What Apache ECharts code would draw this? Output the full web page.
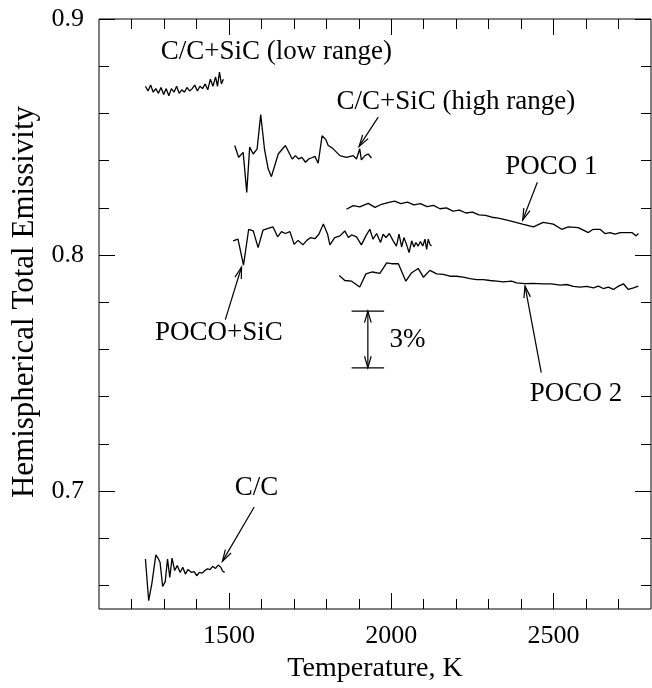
<!DOCTYPE html>
<html><head><meta charset="utf-8">
<script src="https://cdn.jsdelivr.net/npm/echarts@6/dist/echarts.min.js"></script>
<style>html,body{margin:0;padding:0;background:#fff}#c{width:652px;height:688px}</style>
</head><body><div id="c"></div>
<script>
// ---- data (temperature K, emissivity) ----
const ccT = [1243,1253,1263,1275,1282,1288,1296,1304,1311,1318,1325,1333,1341,1350,1358,1366,1374,1385,1393,1401,1409,1418,1426,1434,1442,1450,1459,1467,1475,1481,1487];
const ccE = [0.6712,0.6535,0.661,0.6729,0.6715,0.6698,0.6596,0.6616,0.6712,0.6634,0.6716,0.6663,0.6684,0.6655,0.6677,0.6648,0.6667,0.6655,0.6658,0.6641,0.6655,0.6652,0.6663,0.667,0.6667,0.6681,0.6672,0.6686,0.6677,0.666,0.6655];

const lowT = [1243,1251,1259,1267,1275,1283,1291,1299,1307,1315,1323,1331,1339,1347,1355,1363,1371,1379,1387,1395,1403,1411,1419,1427,1435,1443,1451,1459,1465,1471,1477,1483];
const lowE = [0.8715,0.8695,0.872,0.869,0.8705,0.8685,0.871,0.868,0.8705,0.8675,0.8705,0.869,0.8715,0.8685,0.870,0.869,0.871,0.8695,0.8705,0.872,0.8695,0.8715,0.8705,0.8725,0.870,0.8745,0.8715,0.8755,0.8715,0.8775,0.8725,0.8745];

const highT = [1518,1530,1544,1555,1564,1575,1587,1598,1610,1621,1631,1652,1674,1695,1705,1715,1725,1736,1746,1754,1765,1775,1787,1798,1806,1818,1842,1862,1883,1893,1903,1908,1919,1929,1939];
const highE = [0.8464,0.8414,0.8435,0.8265,0.8457,0.8428,0.845,0.8595,0.8445,0.8365,0.8332,0.8428,0.8464,0.8407,0.8421,0.8407,0.8414,0.8393,0.8407,0.8411,0.8418,0.8389,0.8505,0.849,0.8464,0.8454,0.8421,0.8414,0.8421,0.8407,0.845,0.8403,0.8421,0.8428,0.8411];

const pocoSicT = [1513,1528,1545,1561,1575,1590,1605,1621,1636,1650,1662,1674,1688,1701,1713,1728,1740,1752,1765,1777,1791,1804,1811,1826,1842,1857,1868,1878,1893,1908,1922,1934,1944,1955,1967,1975,1984,1994,2006,2016,2024,2032,2039,2047,2055,2063,2070,2076,2083,2090,2097,2104,2109,2114,2119,2124];
const pocoSicE = [0.806,0.8067,0.7957,0.8109,0.8102,0.8031,0.8105,0.8113,0.8119,0.8077,0.8099,0.8091,0.8099,0.8045,0.8062,0.8043,0.8062,0.8074,0.8069,0.8088,0.8131,0.8088,0.8043,0.8074,0.8081,0.8102,0.8074,0.8085,0.8077,0.8043,0.8081,0.8109,0.8067,0.8091,0.8053,0.8088,0.8074,0.8091,0.806,0.8038,0.8088,0.8034,0.8074,0.8045,0.801,0.806,0.8034,0.8053,0.8038,0.8057,0.8038,0.8067,0.8024,0.8067,0.8045,0.8038];

const poco1T = [1862,1883,1903,1929,1950,1970,1990,2010,2030,2050,2070,2090,2110,2130,2150,2170,2190,2210,2230,2250,2270,2290,2310,2330,2350,2366,2407,2438,2468,2499,2525,2545,2576,2607,2622,2643,2658,2674,2689,2705,2725,2741,2754,2761];
const poco1E = [0.8194,0.8209,0.8204,0.8219,0.8202,0.8215,0.8222,0.8228,0.8218,0.8224,0.8212,0.8218,0.8205,0.821,0.8196,0.82,0.8186,0.819,0.8178,0.8182,0.817,0.8168,0.816,0.8156,0.815,0.8145,0.813,0.8119,0.8138,0.8131,0.8109,0.8119,0.8116,0.8095,0.8109,0.8109,0.8091,0.8095,0.8088,0.8095,0.8095,0.8095,0.8081,0.8091];

const poco2T = [1840,1857,1878,1903,1922,1942,1965,1986,2001,2022,2045,2063,2083,2099,2119,2140,2160,2181,2201,2222,2242,2263,2284,2304,2325,2345,2371,2386,2412,2438,2468,2494,2520,2540,2561,2581,2602,2623,2638,2653,2669,2684,2700,2715,2730,2746,2761];
const poco2E = [0.7913,0.7892,0.7889,0.7864,0.792,0.7928,0.7922,0.7967,0.7963,0.7963,0.7889,0.7925,0.7943,0.7906,0.7935,0.792,0.7918,0.791,0.791,0.7906,0.79,0.7896,0.7896,0.7892,0.7889,0.7886,0.7889,0.7882,0.7879,0.788,0.7878,0.7878,0.7872,0.7875,0.7867,0.7864,0.7867,0.7861,0.7868,0.7858,0.7864,0.7854,0.7868,0.7878,0.7854,0.7861,0.7868];

const xMajorTicks = [1500,2000,2500];
const xMinorTicks = [1200,1300,1400,1600,1700,1800,1900,2100,2200,2300,2400,2600,2700];
const yMajorTicks = [0.7,0.8,0.9];
const yMinorTicks = [0.66,0.68,0.72,0.74,0.76,0.78,0.82,0.84,0.86,0.88];

// ---- chart ----
const FONT = 'Liberation Serif';
const chart = echarts.init(document.getElementById('c'));
const pairs = (T,E) => T.map((t,i)=>[t,E[i]]);
const ser = (name,T,E) => ({name,type:'line',data:pairs(T,E),symbol:'none',showSymbol:false,
  lineStyle:{color:'#000',width:1.3},itemStyle:{color:'#000'},xAxisIndex:0,yAxisIndex:0,z:3,animation:false});
const tk = (len, vals) => ({show:true,inside:true,length:len,customValues:vals,lineStyle:{color:'#000',width:1}});
const bx = {type:'value',min:1100,max:2800,axisLine:{show:false,onZero:false},splitLine:{show:false}};
const by = {type:'value',min:0.65,max:0.9,axisLine:{show:false,onZero:false},splitLine:{show:false}};
const noLab = {show:false};

chart.setOption({
  animation:false,
  backgroundColor:'#fff',
  grid:{left:99,right:1,top:19,bottom:79,show:true,borderColor:'#000',borderWidth:1,backgroundColor:'transparent'},
  xAxis:[
    Object.assign({},bx,{position:'bottom',axisTick:tk(16,xMajorTicks),
      axisLabel:{customValues:xMajorTicks,margin:14,fontFamily:FONT,fontSize:26,color:'#000',formatter:v=>String(v)},
      name:'Temperature, K',nameLocation:'middle',nameGap:46,
      nameTextStyle:{fontFamily:FONT,fontSize:28,color:'#000'}}),
    Object.assign({},bx,{position:'bottom',axisTick:tk(10,xMinorTicks),axisLabel:noLab}),
    Object.assign({},bx,{position:'top',axisTick:tk(16,xMajorTicks),axisLabel:noLab}),
    Object.assign({},bx,{position:'top',axisTick:tk(10,xMinorTicks),axisLabel:noLab})
  ],
  yAxis:[
    Object.assign({},by,{position:'left',axisTick:tk(16,yMajorTicks),
      axisLabel:{customValues:yMajorTicks,margin:15,fontFamily:FONT,fontSize:26,color:'#000',formatter:v=>v.toFixed(1)},
      name:'Hemispherical Total Emissivity',nameLocation:'middle',nameGap:56,
      nameTextStyle:{fontFamily:FONT,fontSize:31,color:'#000',padding:[0,0,0,24]}}),
    Object.assign({},by,{position:'left',axisTick:tk(10,yMinorTicks),axisLabel:noLab}),
    Object.assign({},by,{position:'right',axisTick:tk(16,yMajorTicks),axisLabel:noLab}),
    Object.assign({},by,{position:'right',axisTick:tk(10,yMinorTicks),axisLabel:noLab})
  ],
  series:[
    ser('C/C',ccT,ccE),
    ser('C/C+SiC (low range)',lowT,lowE),
    ser('C/C+SiC (high range)',highT,highE),
    ser('POCO+SiC',pocoSicT,pocoSicE),
    ser('POCO 1',poco1T,poco1E),
    ser('POCO 2',poco2T,poco2E)
  ]
});

// ---- annotations ----
const P = (k,v) => chart.convertToPixel({xAxisIndex:0,yAxisIndex:0},[k,v]);
const g = [];
function txt(s,k,v,align){
  const p = P(k,v);
  g.push({type:'text',x:p[0],y:p[1],z:10,style:{text:s,fontFamily:FONT,fontSize:27,fill:'#000',
    align:align||'center',verticalAlign:'middle',textAlign:align||'center',textVerticalAlign:'middle'}});
}
function head(b,ang){
  const L=12,w=0.28;
  return [[b[0]-L*Math.cos(ang-w),b[1]-L*Math.sin(ang-w)],b,[b[0]-L*Math.cos(ang+w),b[1]-L*Math.sin(ang+w)]];
}
function arrow(k1,v1,k2,v2,both){
  const a=P(k1,v1), b=P(k2,v2);
  const ang=Math.atan2(b[1]-a[1],b[0]-a[0]);
  g.push({type:'line',z:10,shape:{x1:a[0],y1:a[1],x2:b[0],y2:b[1]},style:{stroke:'#000',lineWidth:1.2}});
  g.push({type:'polyline',z:10,shape:{points:head(b,ang)},style:{stroke:'#000',lineWidth:1.2,fill:null}});
  if(both) g.push({type:'polyline',z:10,shape:{points:head(a,ang+Math.PI)},style:{stroke:'#000',lineWidth:1.2,fill:null}});
}
function hline(k1,k2,v){
  const a=P(k1,v), b=P(k2,v);
  g.push({type:'line',z:10,shape:{x1:a[0],y1:a[1],x2:b[0],y2:b[1]},style:{stroke:'#000',lineWidth:1.2}});
}
txt('C/C+SiC (low range)',1646,0.886);
txt('C/C+SiC (high range)',2199,0.8647);
arrow(1960,0.8584,1901,0.846);
txt('POCO 1',2493,0.8374);
arrow(2450,0.8308,2405,0.8148);
txt('POCO+SiC',1469,0.7668);
arrow(1489,0.7726,1539,0.7949);
txt('POCO 2',2569,0.7413);
arrow(2462,0.7502,2412,0.7868);
txt('C/C',1585,0.7013);
arrow(1578,0.6932,1480,0.6702);
hline(1878,1978,0.7762);
hline(1878,1978,0.7522);
arrow(1928,0.7522,1928,0.7762,true);
txt('3%',1995,0.764,'left');
chart.setOption({graphic:g});
</script>
</body></html>
